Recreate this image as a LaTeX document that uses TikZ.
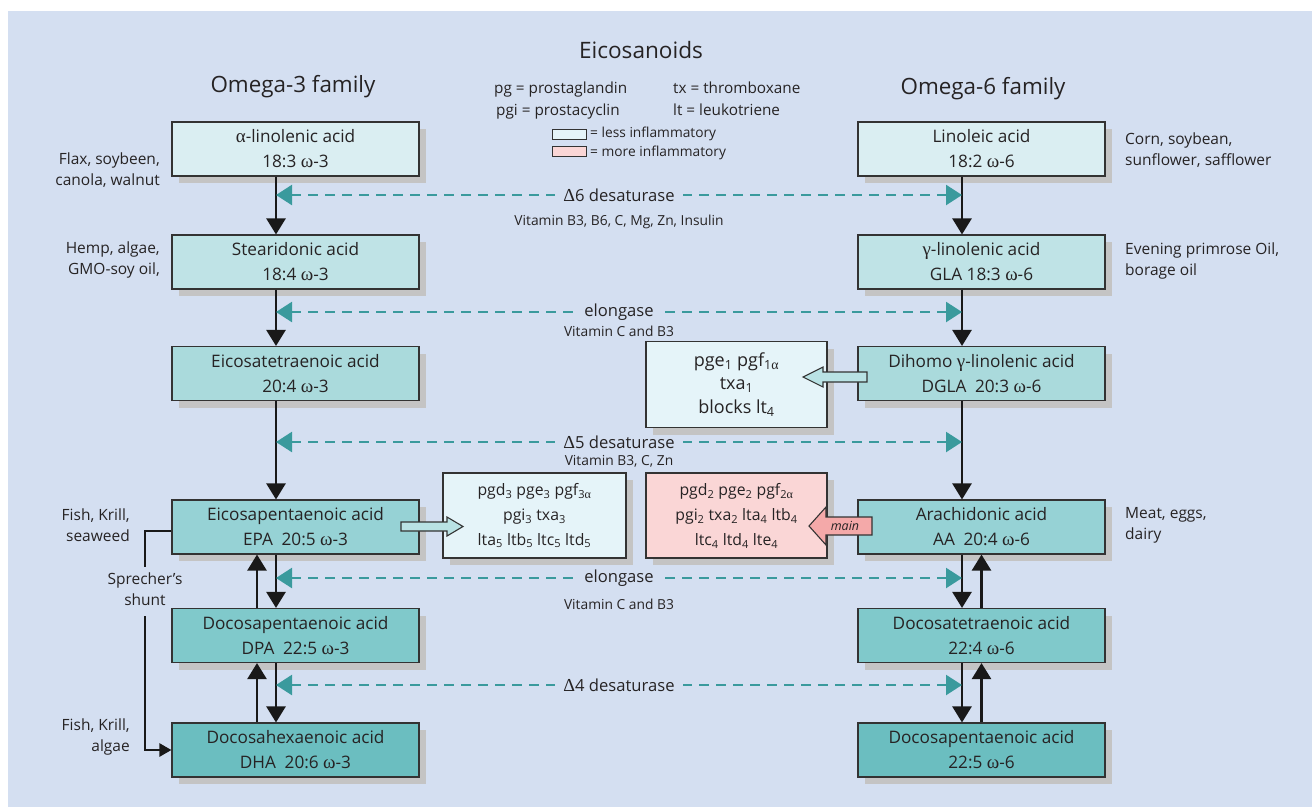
\documentclass[tikz,border=0pt]{standalone}
\usepackage{fontspec}
\setmainfont{Open Sans}
\newfontfamily\grk[Scale=1.1]{Liberation Serif}
\usetikzlibrary{arrows.meta,shadows,calc}
\newcommand\galpha{{\grk α}}
\newcommand\gomega{{\grk ω}}
\newcommand\ggamma{{\grk γ}}
\newcommand\gDelta{{\grk Δ}}
\newcommand\sbs[1]{\textsubscript{#1}}
\definecolor{bg}{HTML}{D4DFF1}
\definecolor{txt}{HTML}{262324}
\definecolor{bord}{HTML}{333333}
\definecolor{shad}{HTML}{C4C4C4}
\definecolor{rA}{HTML}{DAEEF2}
\definecolor{rB}{HTML}{BFE3E6}
\definecolor{rC}{HTML}{AADADC}
\definecolor{rD}{HTML}{96D2D5}
\definecolor{rE}{HTML}{80C9CB}
\definecolor{rF}{HTML}{6BBEC0}
\definecolor{lessc}{HTML}{E5F4F9}
\definecolor{morec}{HTML}{FAD6D6}
\definecolor{mainc}{HTML}{F4A9A9}
\definecolor{hollowc}{HTML}{B9E2E4}
\definecolor{tealc}{HTML}{3A9A9D}
\begin{document}
\begin{tikzpicture}[x=1pt,y=-1pt,
  every node/.style={text=txt},
  fa/.style={draw=bord, line width=1.1pt, minimum width=247pt, minimum height=54pt,
    inner sep=0pt, align=center, font=\fontsize{17.2}{25}\selectfont,
    drop shadow={shadow xshift=7pt, shadow yshift=-7pt, fill=shad, opacity=1}},
  prod/.style={draw=bord, line width=1.1pt, inner sep=0pt, align=center,
    drop shadow={shadow xshift=7pt, shadow yshift=-7pt, fill=shad, opacity=1}},
  blk/.style={draw=black!90, line width=2.5pt, -{Triangle[width=19pt,length=16pt]}},
  dsh/.style={draw=tealc, line width=2.4pt, dash pattern=on 10pt off 7pt,
    {Triangle[width=20pt,length=16pt]}-{Triangle[width=20pt,length=16pt]}},
  lbl/.style={fill=bg, inner xsep=8pt, inner ysep=1pt, font=\fontsize{16.6}{20}\selectfont},
  vit/.style={font=\fontsize{13.8}{16}\selectfont},
  side/.style={font=\fontsize{15.5}{21}\selectfont, inner sep=0pt},
  leg/.style={font=\fontsize{15.3}{18}\selectfont, inner sep=0pt},
  hol/.style={draw=bord, line width=1.1pt, fill=hollowc, line join=miter}
]
\useasboundingbox (0,0) rectangle (1312,807);
\fill[white] (0,0) rectangle (1312,807);
\fill[bg] (8,11) rectangle (1312,807);

% titles
\node[font=\fontsize{22.6}{26}\selectfont] (ttl) at (641,50) {Eicosanoids};
\node[font=\fontsize{22.4}{26}\selectfont] (om3) at (293,87) {Omega-3 family};
\node[font=\fontsize{22.4}{26}\selectfont] (om6) at (983,89) {Omega-6 family};

% legend
\node[leg, anchor=base west] (lg1) at (494,93) {pg = prostaglandin};
\node[leg, anchor=base west] (lg2) at (673,93) {tx = thromboxane};
\node[leg, anchor=base west] (lg3) at (496,115) {pgi = prostacyclin};
\node[leg, anchor=base west] (lg4) at (673,115) {lt = leukotriene};
\draw[draw=bord, line width=1pt, fill=lessc] (552,129) rectangle (586,139);
\draw[draw=bord, line width=1pt, fill=morec] (552,146) rectangle (586,156);
\node[font=\fontsize{13.75}{16}\selectfont, anchor=base west, inner sep=0pt] (lg5) at (590,137.5) {= less inflammatory};
\node[font=\fontsize{13.75}{16}\selectfont, anchor=base west, inner sep=0pt] (lg6) at (590,156) {= more inflammatory};

% left column
\node[fa, fill=rA] (ala) at (295.5,149) {\galpha-linolenic acid\\18:3 \gomega-3};
\node[fa, fill=rB] (sda) at (295.5,262) {Stearidonic acid\\18:4 \gomega-3};
\node[fa, fill=rC] (eta) at (295.5,373.5) {Eicosatetraenoic acid\\20:4 \gomega-3};
\node[fa, fill=rD] (epa) at (295.5,527) {Eicosapentaenoic acid\\EPA\enspace 20:5 \gomega-3};
\node[fa, fill=rE] (dpa) at (295.5,635.5) {Docosapentaenoic acid\\DPA\enspace 22:5 \gomega-3};
\node[fa, fill=rF] (dha) at (295.5,750) {Docosahexaenoic acid\\DHA\enspace 20:6 \gomega-3};

% right column
\node[fa, fill=rA] (la) at (981.5,149) {Linoleic acid\\18:2 \gomega-6};
\node[fa, fill=rB] (gla) at (981.5,262) {\ggamma-linolenic acid\\GLA 18:3 \gomega-6};
\node[fa, fill=rC] (dgla) at (981.5,373.5) {Dihomo \ggamma-linolenic acid\\DGLA\enspace 20:3 \gomega-6};
\node[fa, fill=rD] (aa) at (981.5,527) {Arachidonic acid\\AA\enspace 20:4 \gomega-6};
\node[fa, fill=rE] (dta) at (981.5,635.5) {Docosatetraenoic acid\\22:4 \gomega-6};
\node[fa, fill=rF] (dpa6) at (981.5,750) {Docosapentaenoic acid\\22:5 \gomega-6};

% product boxes
\node[prod, fill=lessc, minimum width=181pt, minimum height=86pt, font=\fontsize{18}{23.5}\selectfont] (p1) at (736.5,384.5)
  {pge\sbs{1} pgf\sbs{1\galpha}\\txa\sbs{1}\\blocks lt\sbs{4}};
\node[prod, fill=lessc, minimum width=183pt, minimum height=85pt, font=\fontsize{15.8}{25}\selectfont] (p3) at (534.5,515.5)
  {pgd\sbs{3} pge\sbs{3} pgf\sbs{3\galpha}\\pgi\sbs{3} txa\sbs{3}\\lta\sbs{5} ltb\sbs{5} ltc\sbs{5} ltd\sbs{5}};
\node[prod, fill=morec, minimum width=181pt, minimum height=85pt, font=\fontsize{15.8}{25}\selectfont] (p2) at (736.5,515.5)
  {pgd\sbs{2} pge\sbs{2} pgf\sbs{2\galpha}\\pgi\sbs{2} txa\sbs{2} lta\sbs{4} ltb\sbs{4}\\ltc\sbs{4} ltd\sbs{4} lte\sbs{4}};

% block arrows
\draw[hol] (867,372) -- (823,372) -- (823,367) -- (803,377) -- (823,387) -- (823,382) -- (867,382) -- cycle;
\draw[hol] (401,522) -- (447,522) -- (447,517) -- (463,526.5) -- (447,536) -- (447,531) -- (401,531) -- cycle;
\draw[draw=bord, line width=1.1pt, fill=mainc, line join=miter]
  (872,517) -- (826,517) -- (826,507) -- (809,526) -- (826,545) -- (826,535) -- (872,535) -- cycle;
\node[font=\fontsize{12.5}{15}\selectfont\itshape, inner sep=0pt] (mainl) at (845,525.5) {main};

% vertical arrows left
\draw[blk] ([xshift=-19.5pt]ala.south) -- ([xshift=-19.5pt]sda.north);
\draw[blk] ([xshift=-19.5pt]sda.south) -- ([xshift=-19.5pt]eta.north);
\draw[blk] ([xshift=-19.5pt]eta.south) -- ([xshift=-19.5pt]epa.north);
\draw[blk] ([xshift=-19.5pt]epa.south) -- ([xshift=-19.5pt]dpa.north);
\draw[blk] ([xshift=-38.5pt]dpa.north) -- ([xshift=-38.5pt]epa.south);
\draw[blk] ([xshift=-19.5pt]dpa.south) -- ([xshift=-19.5pt]dha.north);
\draw[blk] ([xshift=-38.5pt]dha.north) -- ([xshift=-38.5pt]dpa.south);
% vertical arrows right
\draw[blk] ([xshift=-19.5pt]la.south) -- ([xshift=-19.5pt]gla.north);
\draw[blk] ([xshift=-19.5pt]gla.south) -- ([xshift=-19.5pt]dgla.north);
\draw[blk] ([xshift=-19.5pt]dgla.south) -- ([xshift=-19.5pt]aa.north);
\draw[blk] ([xshift=-19.5pt]aa.south) -- ([xshift=-19.5pt]dta.north);
\draw[blk] (dta.north) -- (aa.south);
\draw[blk] ([xshift=-19.5pt]dta.south) -- ([xshift=-19.5pt]dpa6.north);
\draw[blk] (dpa6.north) -- (dta.south);

% Sprecher's shunt
\coordinate (s1) at (145,567);
\coordinate (s2) at (145,616);
\draw[draw=black!90, line width=2.5pt] ($(epa.west)+(0,4)$) -| (s1);
\draw[draw=black!90, line width=2.5pt, -{Triangle[width=13pt,length=12pt]}] (s2) |- (dha.west);
\node[side, align=center] (spr) at (145,589) {Sprecher's\\shunt};

% dashed enzyme arrows
\foreach \n/\yy in {a/195,b/312,c/442,d/578,e/685}{
  \coordinate (L\n) at (276,\yy);
  \coordinate (R\n) at (962,\yy);
  \draw[dsh] (L\n) -- (R\n);
}
\node[lbl] (ea) at ($(La)!0.5!(Ra)$) {\gDelta6 desaturase};
\node[vit] (va) at (619,222) {Vitamin B3, B6, C, Mg, Zn, Insulin};
\node[lbl] (eb) at ($(Lb)!0.5!(Rb)$) {elongase};
\node[vit] (vb) at (619,331) {Vitamin C and B3};
\node[lbl] (ec) at ($(Lc)!0.5!(Rc)$) {\gDelta5 desaturase};
\node[vit] (vc) at (619,461) {Vitamin B3, C, Zn};
\node[lbl] (ed) at ($(Ld)!0.5!(Rd)$) {elongase};
\node[vit] (vd) at (619,604) {Vitamin C and B3};
\node[lbl] (ee) at ($(Le)!0.5!(Re)$) {\gDelta4 desaturase};

% side texts
\node[side, align=right, anchor=east] (t1) at (160,170) {Flax, soybeen,\\canola, walnut};
\node[side, align=right, anchor=east] (t2) at (160,260) {Hemp, algae,\\GMO-soy oil,};
\node[side, align=right, anchor=east] (t3) at (130,525) {Fish, Krill,\\seaweed};
\node[side, align=right, anchor=east] (t4) at (130,737) {Fish, Krill,\\algae};
\node[side, align=left, anchor=west] (t5) at (1125,150) {Corn, soybean,\\sunflower, safflower};
\node[side, align=left, anchor=west] (t6) at (1125,260.5) {Evening primrose Oil,\\borage oil};
\node[side, align=left, anchor=west] (t7) at (1125,525.5) {Meat, eggs,\\dairy};
\end{tikzpicture}
\end{document}
